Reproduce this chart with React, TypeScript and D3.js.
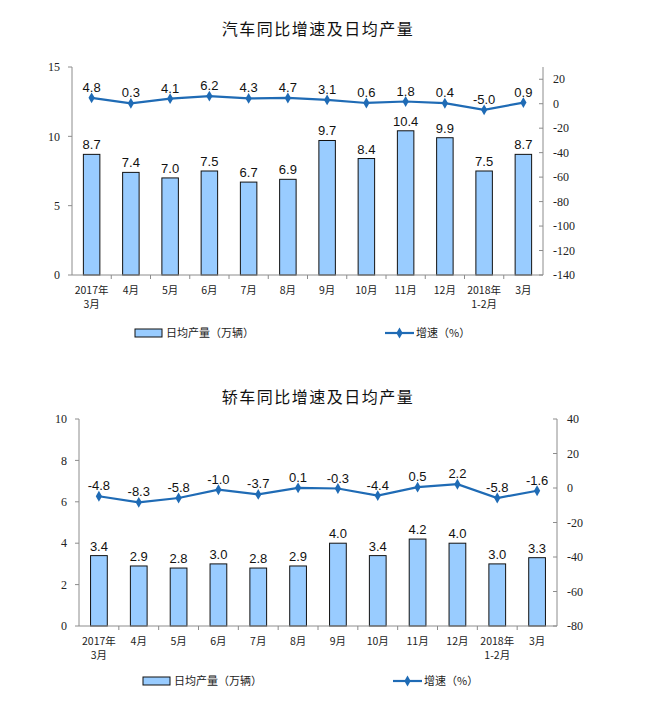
import React from "react";
import { scaleBand, scaleLinear, line as d3_line, symbol, symbolDiamond } from "d3";

const months: string[][] = [
    ["2017年", "3月"], ["4月"], ["5月"], ["6月"], ["7月"], ["8月"],
    ["9月"], ["10月"], ["11月"], ["12月"], ["2018年", "1-2月"], ["3月"],
];

const carDaily = [8.7, 7.4, 7.0, 7.5, 6.7, 6.9, 9.7, 8.4, 10.4, 9.9, 7.5, 8.7];
const carGrowth = [4.8, 0.3, 4.1, 6.2, 4.3, 4.7, 3.1, 0.6, 1.8, 0.4, -5.0, 0.9];
const carLeftTicks = [0, 5, 10, 15];
const carRightTicks = [-140, -120, -100, -80, -60, -40, -20, 0, 20];

const sedanDaily = [3.4, 2.9, 2.8, 3.0, 2.8, 2.9, 4.0, 3.4, 4.2, 4.0, 3.0, 3.3];
const sedanGrowth = [-4.8, -8.3, -5.8, -1.0, -3.7, 0.1, -0.3, -4.4, 0.5, 2.2, -5.8, -1.6];
const sedanLeftTicks = [0, 2, 4, 6, 8, 10];
const sedanRightTicks = [-80, -60, -40, -20, 0, 20, 40];

const barLegend = "日均产量（万辆）";
const lineLegend = "增速（%）";

const BAR_FILL = "#99CCFF";
const LINE = "#1F6BB5";
const AXIS = "#8c8c8c";
const SANS = "Arial, 'Liberation Sans', 'Noto Sans CJK SC', sans-serif";
const SERIF = "'Times New Roman', 'Liberation Serif', serif";
const CJK = "'Noto Sans CJK SC', sans-serif";

type PanelProps = {
    title: string;
    titleY: number;
    left: number;
    right: number;
    top: number;
    bottom: number;
    daily: number[];
    growth: number[];
    leftDomain: [number, number];
    rightDomain: [number, number];
    leftTicks: number[];
    rightTicks: number[];
    legendY: number;
    legendBarX: number;
    legendLineX: number;
};

const Panel: React.FC<PanelProps> = (p) => {
    const x = scaleBand<number>()
        .domain(months.map((_, i) => i))
        .range([p.left, p.right])
        .paddingInner(0.58)
        .paddingOuter(0.29);
    const band = (p.right - p.left) / months.length;
    const yL = scaleLinear().domain(p.leftDomain).range([p.bottom, p.top]);
    const yR = scaleLinear().domain(p.rightDomain).range([p.bottom, p.top]);
    const cx = (i: number) => (x(i) ?? 0) + x.bandwidth() / 2;

    const path = d3_line<number>()
        .x((_, i) => cx(i))
        .y((d) => yR(d))(p.growth) ?? "";
    const diamond = symbol().type(symbolDiamond).size(34)() ?? "";

    return (
        <g>
            <text x={318} y={p.titleY} textAnchor="middle" fontFamily={CJK} fontSize={16}
                letterSpacing={1.5} fill="#111">
                {p.title}
            </text>

            {/* bars */}
            {p.daily.map((v, i) => (
                <g key={i}>
                    <rect x={x(i)} y={yL(v)} width={x.bandwidth()} height={p.bottom - yL(v)}
                        fill={BAR_FILL} stroke="#111" strokeWidth={1} />
                    <text x={cx(i)} y={yL(v) - 5} textAnchor="middle" fontFamily={SANS}
                        fontSize={13} fill="#111">
                        {v.toFixed(1)}
                    </text>
                </g>
            ))}

            {/* axes */}
            <line x1={p.left} x2={p.left} y1={p.top} y2={p.bottom} stroke={AXIS} />
            <line x1={p.right} x2={p.right} y1={p.top} y2={p.bottom} stroke={AXIS} />
            <line x1={p.left} x2={p.right} y1={p.bottom} y2={p.bottom} stroke={AXIS} />
            {p.leftTicks.map((t) => (
                <g key={t}>
                    <line x1={p.left - 4} x2={p.left} y1={yL(t)} y2={yL(t)} stroke={AXIS} />
                    <text x={p.left - 12} y={yL(t)} dy="0.35em" textAnchor="end"
                        fontFamily={SERIF} fontSize={12} fill="#222">
                        {t}
                    </text>
                </g>
            ))}
            {p.rightTicks.map((t) => (
                <g key={t}>
                    <line x1={p.right - 4} x2={p.right} y1={yR(t)} y2={yR(t)} stroke={AXIS} />
                    <text x={p.right + 10} y={yR(t)} dy="0.35em" textAnchor="start"
                        fontFamily={SERIF} fontSize={12} fill="#222">
                        {t}
                    </text>
                </g>
            ))}
            {months.slice(1).map((_, i) => (
                <line key={i} x1={p.left + band * (i + 1)} x2={p.left + band * (i + 1)}
                    y1={p.bottom} y2={p.bottom + 4} stroke={AXIS} />
            ))}
            {months.map((m, i) => (
                <text key={i} textAnchor="middle" fontFamily={CJK} fontSize={10.5} fill="#222">
                    {m.map((s, j) => (
                        <tspan key={j} x={cx(i)} y={p.bottom + 19 + j * 14}>{s}</tspan>
                    ))}
                </text>
            ))}

            {/* growth line */}
            <path d={path} fill="none" stroke={LINE} strokeWidth={2.2} />
            {p.growth.map((v, i) => (
                <g key={i}>
                    <path d={diamond} transform={`translate(${cx(i)},${yR(v)})`} fill={LINE} />
                    <text x={cx(i)} y={yR(v) - 6} textAnchor="middle" fontFamily={SANS}
                        fontSize={13} fill="#111">
                        {v.toFixed(1)}
                    </text>
                </g>
            ))}

            {/* legend */}
            <rect x={p.legendBarX} y={p.legendY - 4} width={27} height={8} fill={BAR_FILL}
                stroke="#111" strokeWidth={1} />
            <text x={p.legendBarX + 31} y={p.legendY} dy="0.38em" fontFamily={CJK}
                fontSize={11} fill="#222">
                {barLegend}
            </text>
            <line x1={p.legendLineX} x2={p.legendLineX + 29} y1={p.legendY} y2={p.legendY}
                stroke={LINE} strokeWidth={2.2} />
            <path d={diamond} transform={`translate(${p.legendLineX + 14.5},${p.legendY})`}
                fill={LINE} />
            <text x={p.legendLineX + 31} y={p.legendY} dy="0.38em" fontFamily={CJK}
                fontSize={11} fill="#222">
                {lineLegend}
            </text>
        </g>
    );
};

export default function App() {
    return (
        <svg width={655} height={717} style={{ position: "absolute", left: 0, top: 0, background: "#fff" }}>
            <rect width={655} height={717} fill="#fff" />
            <Panel title="汽车同比增速及日均产量" titleY={35} left={72} right={543} top={67} bottom={275}
                daily={carDaily} growth={carGrowth}
                leftDomain={[0, 15]} rightDomain={[-140, 30]}
                leftTicks={carLeftTicks} rightTicks={carRightTicks}
                legendY={333} legendBarX={135} legendLineX={385} />
            <Panel title="轿车同比增速及日均产量" titleY={403} left={79} right={557} top={419} bottom={626}
                daily={sedanDaily} growth={sedanGrowth}
                leftDomain={[0, 10]} rightDomain={[-80, 40]}
                leftTicks={sedanLeftTicks} rightTicks={sedanRightTicks}
                legendY={681} legendBarX={143} legendLineX={393} />
        </svg>
    );
}
